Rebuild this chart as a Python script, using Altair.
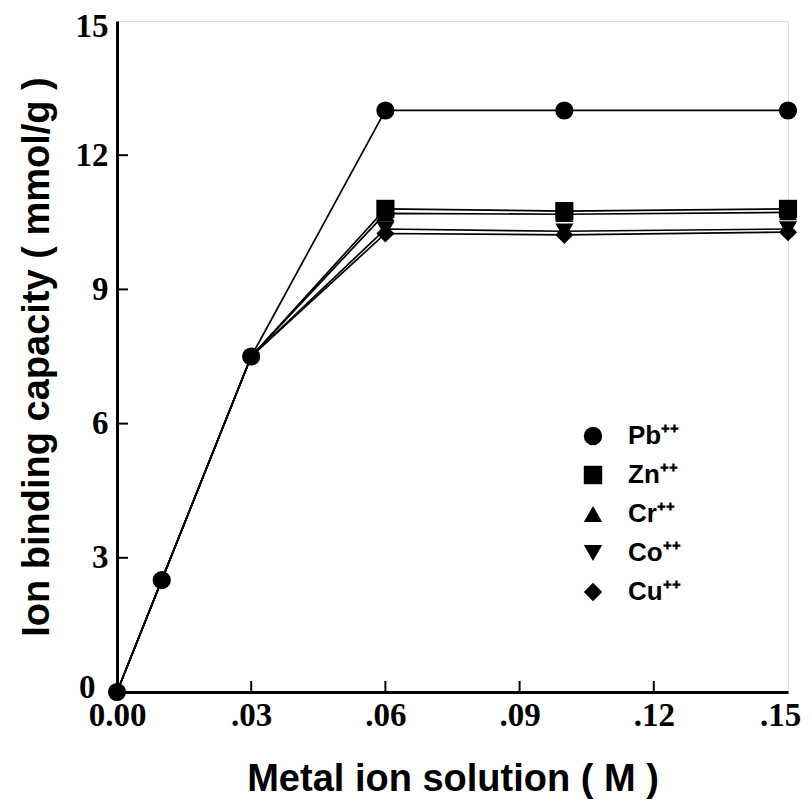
import altair as alt
import pandas as pd

conc = [0.0, 0.01, 0.03, 0.06, 0.10, 0.15]
ions = ["Pb⁺⁺", "Zn⁺⁺", "Cr⁺⁺", "Co⁺⁺", "Cu⁺⁺"]
pb = [0, 2.5, 7.5, 13.0, 13.0, 13.0]
zn = [0, 2.5, 7.5, 10.8, 10.75, 10.8]
cr = [0, 2.5, 7.5, 10.7, 10.68, 10.72]
co = [0, 2.5, 7.5, 10.35, 10.3, 10.35]
cu = [0, 2.5, 7.5, 10.25, 10.22, 10.28]
x_ticks = [0, 0.03, 0.06, 0.09, 0.12, 0.15]
y_ticks = [0, 3, 6, 9, 12, 15]
shapes = ["circle", "square", "triangle-up", "triangle-down", "diamond"]

rows = []
for name, vals in reversed(list(zip(ions, [pb, zn, cr, co, cu]))):
    for c, v in zip(conc, vals):
        rows.append({"conc": c, "cap": v, "ion": name})
df = pd.DataFrame(rows)
xt = pd.DataFrame({"conc": x_ticks[1:-1]})
yt = pd.DataFrame({"cap": y_ticks[1:-1]})

x_scale = alt.Scale(domain=[0, 0.15], nice=False, zero=False)
y_scale = alt.Scale(domain=[0, 15], nice=False, zero=False)

x_enc = alt.X(
    "conc:Q",
    scale=x_scale,
    axis=alt.Axis(
        title="Metal ion solution ( M )",
        titleFont="Liberation Sans", titleFontSize=38, titleFontWeight="bold",
        titleColor="black", titlePadding=28,
        labelFont="Liberation Serif", labelFontSize=33, labelFontWeight="bold",
        labelColor="black", labelPadding=7, labelFlush=False,
        labelOffset={"condition": {"test": "datum.value >= 0.149", "value": -8}, "value": 0},
        values=x_ticks,
        labelExpr="datum.value == 0 ? '0.00' : replace(format(datum.value, '.2f'), '0.', '.')",
        ticks=False,
        domainColor="black", domainWidth=3, grid=False,
    ),
)
y_enc = alt.Y(
    "cap:Q",
    scale=y_scale,
    axis=alt.Axis(
        title="Ion binding capacity ( mmol/g )",
        titleFont="Liberation Sans", titleFontSize=38, titleFontWeight="bold",
        titleColor="black", titlePadding=19,
        labelFont="Liberation Serif", labelFontSize=33, labelFontWeight="bold",
        labelColor="black", format="d",
        labelPadding={"condition": {"test": "datum.value <= 0", "value": 22}, "value": 9},
        labelOffset={"condition": [
            {"test": "datum.value >= 15", "value": 5},
            {"test": "datum.value <= 0", "value": -5},
        ], "value": 0},
        values=y_ticks, ticks=False,
        domainColor="black", domainWidth=3, grid=False,
    ),
)

base = alt.Chart(df).encode(x=x_enc, y=y_enc)

lines = base.mark_line(color="black", strokeWidth=1.7).encode(
    detail="ion:N", order="conc:Q"
)
# where all series coincide (low concentrations) only the Pb circle is visible
points = base.transform_filter(
    "datum.ion == 'Pb⁺⁺' || datum.conc >= 0.05"
).mark_point(filled=True, size=330, color="black", opacity=1).encode(
    shape=alt.Shape(
        "ion:N",
        scale=alt.Scale(domain=ions, range=shapes),
        legend=alt.Legend(
            title=None, orient="none", legendX=463, legendY=402,
            symbolSize=340, symbolFillColor="black", symbolStrokeColor="black",
            symbolOpacity=1, labelFont="Liberation Sans", labelFontWeight="bold",
            labelFontSize=26, labelColor="black", rowPadding=13, labelOffset=22,
            padding=0,
        ),
    )
)

x_tick_marks = alt.Chart(xt).mark_rule(color="black", strokeWidth=2).encode(
    x=alt.X("conc:Q", scale=x_scale),
    y=alt.value(671), y2=alt.value(660),
)
y_tick_marks = alt.Chart(yt).mark_rule(color="black", strokeWidth=2).encode(
    y=alt.Y("cap:Q", scale=y_scale),
    x=alt.value(0), x2=alt.value(11),
)

chart = (
    alt.layer(lines, points, x_tick_marks, y_tick_marks)
    .properties(
        width=671, height=671, autosize="none",
        padding={"left": 109, "top": 13, "right": 16, "bottom": 108},
    )
    .configure_view(stroke="black", strokeWidth=3)
    .configure(background="white")
)

chart.save("out.html", embed_options={"renderer": "svg", "actions": False})
